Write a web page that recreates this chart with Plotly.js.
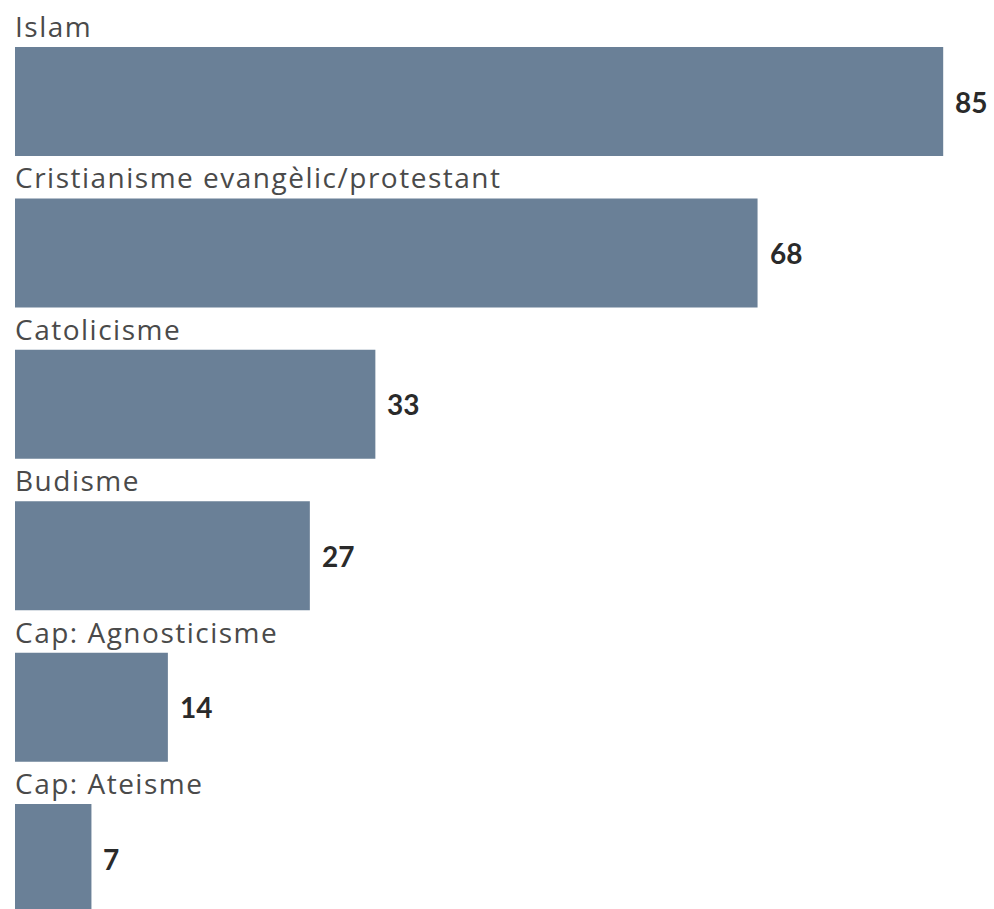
<!DOCTYPE html>
<html>
<head>
<meta charset="utf-8">
<script src="https://cdn.plot.ly/plotly-3.0.1.min.js"></script>
<style>html,body{margin:0;padding:0;background:#fff;}#chart{width:994px;height:909px;}</style>
</head>
<body>
<div id="chart"></div>
<script>
var categories = ["Islam", "Cristianisme evangèlic/protestant", "Catolicisme", "Budisme", "Cap: Agnosticisme", "Cap: Ateisme"];
var values = [85, 68, 33, 27, 14, 7];
var positions = [0, 1, 2, 3, 4, 5];

var barColor = "#6a8097";
var halfBar = 0.36;

var trace = {
  type: "bar",
  orientation: "h",
  x: values,
  y: positions,
  width: 0.72,
  marker: {color: barColor},
  hoverinfo: "skip",
  cliponaxis: true
};

var annotations = [];
categories.forEach(function (c, i) {
  annotations.push({
    x: 0, y: positions[i] - halfBar, xref: "x", yref: "y",
    text: '<span style="letter-spacing:1.5px">' + c + '</span>', showarrow: false, xanchor: "left", yanchor: "bottom",
    xshift: -2, yshift: 0,
    font: {family: "Open Sans, sans-serif", size: 28, color: "#4a4a4a"}
  });
  annotations.push({
    x: values[i], y: positions[i], xref: "x", yref: "y",
    text: "<b>" + values[i] + "</b>", showarrow: false, xanchor: "left", yanchor: "middle",
    xshift: 10, yshift: 0,
    font: {family: "Lato, sans-serif", size: 28, color: "#2a2a2a"}
  });
});

var layout = {
  width: 994, height: 909,
  margin: {l: 15, r: 0, t: 0, b: 0, pad: 0},
  paper_bgcolor: "#ffffff", plot_bgcolor: "#ffffff",
  showlegend: false,
  xaxis: {range: [0, 979 / 10.92], visible: false, fixedrange: true},
  yaxis: {range: [5.333, -0.6704], visible: false, fixedrange: true},
  annotations: annotations
};

Plotly.newPlot("chart", [trace], layout, {displayModeBar: false, staticPlot: true});
</script>
</body>
</html>
